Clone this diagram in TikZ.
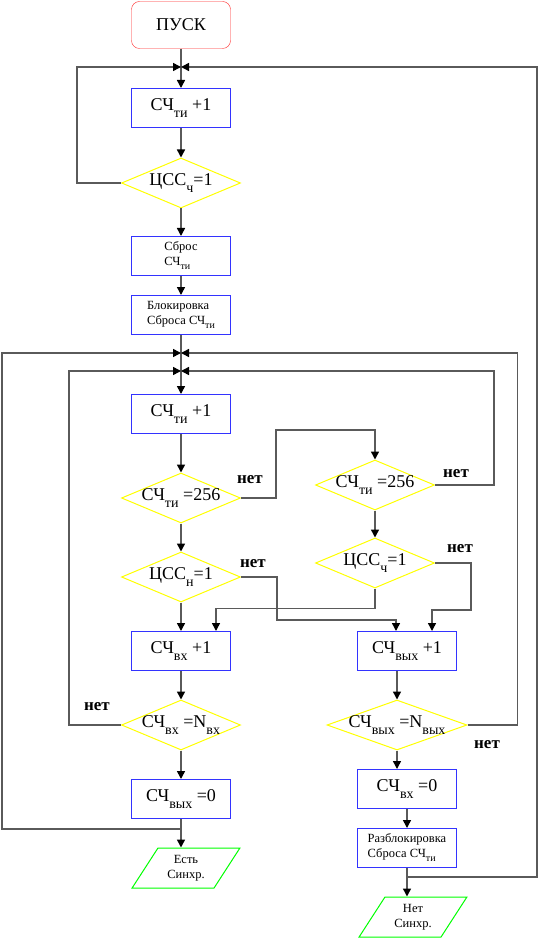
\documentclass[tikz,border=0pt]{standalone}
\usepackage{fontspec}
\setmainfont{Liberation Serif}
\usetikzlibrary{arrows.meta,shapes.geometric,positioning}
\definecolor{termred}{RGB}{255,40,40}
\definecolor{boxblue}{RGB}{51,51,255}
\definecolor{condyel}{RGB}{255,255,0}
\definecolor{iogreen}{RGB}{0,255,0}
\definecolor{wire}{RGB}{90,90,90}
\newcommand{\ix}[1]{\raisebox{-7pt}{\fontsize{14}{14}\selectfont #1}}
\newcommand{\sx}[1]{\raisebox{-4pt}{\fontsize{10}{10}\selectfont #1}}
\tikzset{
  term/.style={draw=termred, rounded corners=8pt, minimum width=99pt, minimum height=47pt, font=\fontsize{18}{20}\selectfont},
  proc/.style={draw=boxblue, line width=1pt, minimum width=99pt, minimum height=39pt, font=\fontsize{18}{20}\selectfont},
  procsm/.style={proc, align=left, font=\fontsize{12.5}{15}\selectfont},
  cond/.style={draw=condyel, line width=1pt, shape=diamond, minimum width=119pt, minimum height=50pt, inner sep=0pt, label={[font=\fontsize{18}{20}\selectfont]center:#1}},
  io/.style={draw=iogreen, line width=1pt, shape=trapezium, trapezium left angle=58, trapezium right angle=122, trapezium stretches=true, minimum width=108pt, minimum height=40pt, align=center, font=\fontsize{12.5}{15}\selectfont},
  flow/.style={draw=wire, line width=1.5pt},
  nettxt/.style={font=\bfseries\fontsize{17}{18}\selectfont}
}
\begin{document}
\begin{tikzpicture}[x=1pt, y=-1pt, >={Triangle[length=8pt,width=8pt,color=black]}]
  \useasboundingbox (0,0) rectangle (538,949);
  % left column
  \node[term] (start) at (181,25) {ПУСК};
  \coordinate (j1) at (181,67);
  \node[proc] (inc1) at (181,108) {СЧ\ix{ти} +1};
  \node[cond={ЦСС\ix{ч}=1}] (chk1) at (181,183) {};
  \node[procsm] (rst) at (181,256) {Сброс\\СЧ\sx{ти}};
  \node[procsm] (blk) at (181,315) {Блокировка\\Сброса СЧ\sx{ти}};
  \coordinate (j2) at (181,353);
  \coordinate (j3) at (181,371);
  \node[proc] (inc2) at (181,414) {СЧ\ix{ти} +1};
  \node[cond={СЧ\ix{ти} =256}] (cmp1) at (181,498) {};
  \node[cond={ЦСС\ix{н}=1}] (syncn) at (181,577) {};
  \node[proc] (incin) at (181,651) {СЧ\ix{вх} +1};
  \node[cond={СЧ\ix{вх} =N\ix{вх}}] (eqin) at (181,725) {};
  \node[proc] (zeroout) at (181,799) {СЧ\ix{вых} =0};
  \coordinate (j4) at (181,829);
  \node[io] (yes) at (186,868) {Есть\\Синхр.};
  % right column
  \node[cond={СЧ\ix{ти} =256}] (cmp2) at (375,485) {};
  \node[cond={ЦСС\ix{ч}=1}] (sync2) at (375,563) {};
  \node[proc] (incout) at (407,651) {СЧ\ix{вых} +1};
  \node[cond={СЧ\ix{вых} =N\ix{вых}}, minimum width=140pt] (eqout) at (397,725) {};
  \node[proc] (zeroin) at (407,789) {СЧ\ix{вх} =0};
  \node[procsm] (unblk) at (407,848) {Разблокировка\\Сброса СЧ\sx{ти}};
  \coordinate (j5) at (407,877);
  \node[io] (no) at (413,917) {Нет\\Синхр.};
  % labels
  \node[nettxt] (n1) at (250,480) {нет};
  \node[nettxt] (n2) at (456,474) {нет};
  \node[nettxt] (n3) at (253,564) {нет};
  \node[nettxt] (n4) at (460,549) {нет};
  \node[nettxt] (n5) at (97,707) {нет};
  \node[nettxt] (n6) at (487,745) {нет};
  % main flow
  \draw[flow,->] (start) -- (inc1);
  \draw[flow,->] (inc1) -- (chk1);
  \draw[flow,->] (chk1) -- (rst);
  \draw[flow,->] (rst) -- (blk);
  \draw[flow,->] (blk) -- (inc2);
  \draw[flow,->] (inc2) -- (cmp1);
  \draw[flow,->] (cmp1) -- (syncn);
  \draw[flow,->] (syncn) -- (incin);
  \draw[flow,->] (incin) -- (eqin);
  \draw[flow,->] (eqin) -- (zeroout);
  \draw[flow,->] (zeroout.south) -- (zeroout.south |- yes.north);
  \draw[flow,->] (cmp2) -- (sync2);
  \draw[flow,->] ([xshift=-10pt]incout.south) -- (eqout.north);
  \draw[flow,->] (eqout.south) -- ([xshift=-10pt]zeroin.north);
  \draw[flow,->] (zeroin) -- (unblk);
  \draw[flow,->] (unblk.south) -- (unblk.south |- no.north);
  % loops
  \draw[flow,->] (chk1.west) -- ++(-44,0) |- (j1);
  \draw[flow,->] (j5) -- ++(130,0) |- (j1);
  \draw[flow,->] (j4) -- ++(-179,0) |- (j2);
  \draw[flow,->] (eqout.east) -- ++(50,0) |- (j2);
  \draw[flow,->] (eqin.west) -- ++(-52,0) |- (j3);
  \draw[flow,->] (cmp2.east) -- ++(59,0) |- (j3);
  \draw[flow,->] (cmp1.east) -| ++(35,-68) -| (cmp2.north);
  \draw[flow,->] (syncn.east) -| ++(36,43) -| ([xshift=-11pt]incout.north);
  \draw[flow,->] (sync2.east) -| ++(36,47) -| ([xshift=25pt]incout.north);
  \draw[flow,->] (sync2.south) -- ++(0,20) -| ([xshift=35pt]incin.north);
\end{tikzpicture}
\end{document}
